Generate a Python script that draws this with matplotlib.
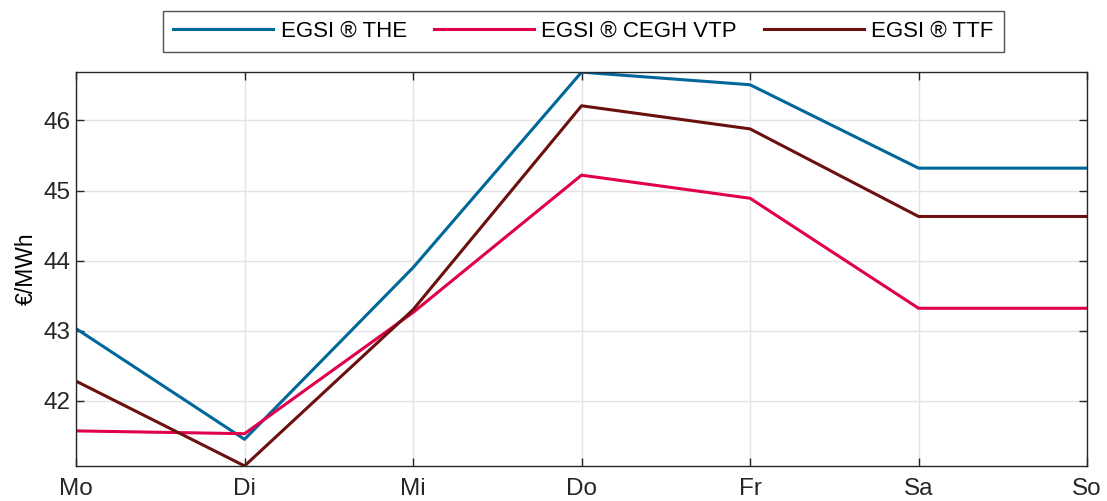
import matplotlib.pyplot as plt

plt.rcParams['font.family'] = ['Liberation Sans', 'DejaVu Sans']

# Daten
tage = ['Mo', 'Di', 'Mi', 'Do', 'Fr', 'Sa', 'So']
the = [43.03, 41.45, 43.90, 46.69, 46.51, 45.32, 45.32]
cegh = [41.57, 41.53, 43.26, 45.22, 44.89, 43.32, 43.32]
ttf = [42.28, 41.07, 43.30, 46.21, 45.88, 44.63, 44.63]

x = range(len(tage))

fig = plt.figure(figsize=(11.07, 5.01), dpi=100)
ax = fig.add_axes([0.0687, 0.070, 0.9133, 0.786])

ax.plot(x, the, color='#00679a', lw=2.2, label='EGSI ® THE')
ax.plot(x, cegh, color='#e0004d', lw=2.2, label='EGSI ® CEGH VTP')
ax.plot(x, ttf, color='#6b0f0f', lw=2.2, label='EGSI ® TTF')

ax.set_xlim(0, len(tage) - 1)
ax.set_ylim(41.07, 46.69)
ax.set_xticks(list(x))
ax.set_xticklabels(tage)
ax.set_yticks([42, 43, 44, 45, 46])
ax.set_ylabel('€/MWh', fontsize=16.5, labelpad=4)

ax.grid(True, color='#e3e3e3', lw=1.0)
ax.set_axisbelow(True)
ax.tick_params(direction='in', length=6, width=1.0, colors='#262626',
               labelsize=17.5, top=True, right=True, pad=4)
ax.tick_params(axis='x', pad=9)
for s in ax.spines.values():
    s.set_color('#262626')
    s.set_linewidth(1.0)

leg = fig.legend(loc='upper center', bbox_to_anchor=(0.527, 0.979), ncol=3,
                 fontsize=16, frameon=True, fancybox=False, handlelength=4.5,
                 handletextpad=0.35, columnspacing=1.2, borderpad=0.45,
                 borderaxespad=0)
leg.get_frame().set_edgecolor('#262626')
leg.get_frame().set_linewidth(1.0)

fig.savefig('out.png', dpi=100)
